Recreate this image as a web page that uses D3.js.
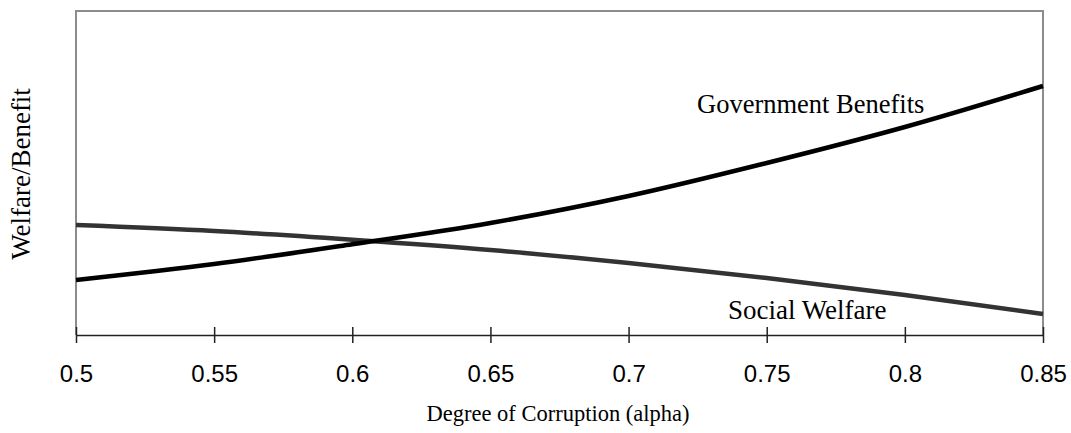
<!DOCTYPE html>
<html>
<head>
<meta charset="utf-8">
<script src="https://cdn.jsdelivr.net/npm/d3@7"></script>
<style>
  html, body { margin: 0; padding: 0; background: #fff; }
  svg { display: block; }
</style>
</head>
<body>
<svg id="chart" width="1071" height="433"></svg>
<script>
const alphas = [0.5, 0.55, 0.6, 0.65, 0.7, 0.75, 0.8, 0.85];
const governmentBenefits = [16.98, 21.91, 28.0, 34.57, 42.90, 53.09, 64.20, 76.85];
const socialWelfare = [33.95, 32.10, 29.4, 26.23, 22.22, 17.59, 12.35, 6.48];
const tickValues = [0.5, 0.55, 0.6, 0.65, 0.7, 0.75, 0.8, 0.85];
const tickLabels = ["0.5", "0.55", "0.6", "0.65", "0.7", "0.75", "0.8", "0.85"];

(function () {
const svg = d3.select("#chart");
const pLeft = 76, pRight = 1043, pTop = 11, pBottom = 335;

const x = d3.scaleLinear().domain([0.5, 0.85]).range([pLeft, pRight]);
const y = d3.scaleLinear().domain([0, 100]).range([pBottom, pTop]);

// frame (gray)
svg.append("path")
  .attr("d", `M${pLeft},${pBottom} V${pTop} H${pRight} V${pBottom}`)
  .attr("fill", "none").attr("stroke", "#8c8c8c").attr("stroke-width", 2);

// x axis
const xAxis = d3.axisBottom(x).tickValues(tickValues)
  .tickFormat((d, i) => tickLabels[i]).tickSizeInner(8).tickSizeOuter(0).tickPadding(22);
const gx = svg.append("g").attr("transform", `translate(0,${pBottom})`).call(xAxis);
gx.select(".domain").attr("stroke", "#222").attr("stroke-width", 1.5);
gx.selectAll(".tick line").attr("y1", -8).attr("y2", 8).attr("stroke", "#222").attr("stroke-width", 1.5);
gx.selectAll(".tick text").attr("font-family", "Liberation Sans, Arial, sans-serif")
  .attr("font-size", 24).attr("fill", "#000");

const line = d3.line().curve(d3.curveMonotoneX)
  .x((d, i) => x(alphas[i])).y(d => y(d));

svg.append("path").datum(socialWelfare).attr("d", line)
  .attr("fill", "none").attr("stroke", "#333").attr("stroke-width", 4.5);
svg.append("path").datum(governmentBenefits).attr("d", line)
  .attr("fill", "none").attr("stroke", "#000").attr("stroke-width", 4.5);

const serif = "Liberation Serif, Times New Roman, serif";
svg.append("text").attr("x", 697).attr("y", 113).text("Government Benefits")
  .attr("font-family", serif).attr("font-size", 26.5).attr("fill", "#000");
svg.append("text").attr("x", 728).attr("y", 319).text("Social Welfare")
  .attr("font-family", serif).attr("font-size", 27).attr("fill", "#000");
svg.append("text").attr("transform", "translate(30,174) rotate(-90)")
  .attr("text-anchor", "middle").text("Welfare/Benefit")
  .attr("font-family", serif).attr("font-size", 27).attr("fill", "#000");
svg.append("text").attr("x", 558).attr("y", 421)
  .attr("text-anchor", "middle").text("Degree of Corruption (alpha)")
  .attr("font-family", serif).attr("font-size", 22.5).attr("fill", "#000");
})();
</script>
</body>
</html>
